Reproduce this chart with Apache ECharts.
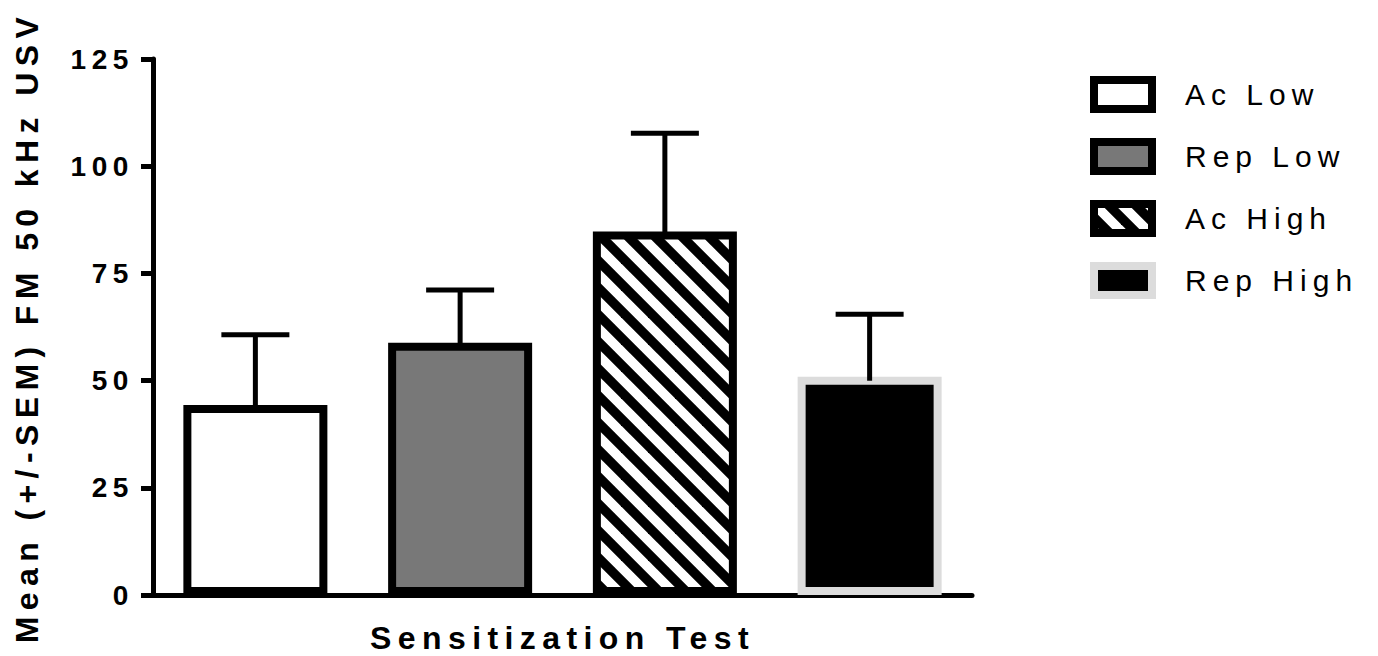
<!DOCTYPE html>
<html>
<head>
<meta charset="utf-8">
<script src="https://cdn.jsdelivr.net/npm/echarts@6/dist/echarts.min.js"></script>
<style>
    html, body { margin: 0; padding: 0; background: #fff; }
    #chart { width: 1378px; height: 656px; }
    /* the original has wide tracking on every label */
    #chart text { letter-spacing: 0.2em; }
</style>
</head>
<body>
<div id="chart"></div>
<script>
(function (window) {
    "use strict";
    var categories = ['Ac Low', 'Rep Low', 'Ac High', 'Rep High'];
    var means = [44.3, 58.8, 84.8, 50.9];
    var sem_top = [60.7, 71.1, 107.7, 65.5];
    var y_min = 0, y_max = 125, y_step = 25;
    var x_title = 'Sensitization Test';
    var y_title = 'Mean (+/-SEM) FM 50 kHz USV';

    var make_hatch = function () {
        var p = 27;
        var c = document.createElement('canvas');
        c.width = p; c.height = p;
        var ctx = c.getContext('2d');
        ctx.fillStyle = '#000';
        ctx.fillRect(0, 0, p, p);
        ctx.strokeStyle = '#fff';
        ctx.lineWidth = 9.5;
        for (var k = -1; k <= 1; k++) {
            ctx.beginPath();
            ctx.moveTo(k * p - p, -p);
            ctx.lineTo(k * p + 2 * p, 2 * p);
            ctx.stroke();
        }
        return c;
    };

    var styles = [
        { color: '#ffffff', borderColor: '#000000' },
        { color: '#787878', borderColor: '#000000' },
        { color: { image: make_hatch(), repeat: 'repeat' }, borderColor: '#000000' },
        { color: '#000000', borderColor: '#dcdcdc' }
    ];

    var font = 'Liberation Sans';
    var series = categories.map(function (name, i) {
        var data = categories.map(function (c, j) { return j === i ? means[i] : '-'; });
        return {
            name: name,
            type: 'bar',
            data: data,
            barWidth: 144,
            barGap: '-100%',
            z: 2,
            itemStyle: {
                color: styles[i].color,
                borderColor: styles[i].borderColor,
                borderWidth: 8
            }
        };
    });

    series.push({
        name: 'SEM',
        type: 'custom',
        z: 3,
        encode: { x: 0, y: [1, 2] },
        data: categories.map(function (c, i) { return [i, means[i], sem_top[i]]; }),
        renderItem: function (params, api) {
            var x = api.value(0);
            var base = api.coord([x, api.value(1)]);
            var top = api.coord([x, api.value(2)]);
            var half = 34;
            return {
                type: 'group',
                children: [
                    { type: 'line', shape: { x1: base[0], y1: base[1] + 4, x2: top[0], y2: top[1] },
                      style: { stroke: '#000', lineWidth: 5 } },
                    { type: 'line', shape: { x1: top[0] - half, y1: top[1], x2: top[0] + half, y2: top[1] },
                      style: { stroke: '#000', lineWidth: 5 } }
                ]
            };
        }
    });

    var chart = echarts.init(document.getElementById('chart'), null, { renderer: 'svg' });
    chart.setOption({
        animation: false,
        grid: { left: 153, right: 406, top: 59, bottom: 61, outerBoundsMode: 'none' },
        legend: {
            orient: 'vertical',
            left: 1090,
            top: 76,
            padding: 0,
            itemWidth: 58,
            itemHeight: 29,
            itemGap: 25,
            icon: 'rect',
            selectedMode: false,
            data: categories,
            itemStyle: { borderWidth: 8 },
            textStyle: { fontFamily: font, fontSize: 30, color: '#000', padding: [0, 0, 0, 28] }
        },
        xAxis: {
            type: 'category',
            data: categories,
            name: x_title,
            nameLocation: 'middle',
            nameGap: 27,
            nameTextStyle: { fontFamily: font, fontSize: 32, fontWeight: 'bold', color: '#000' },
            axisLine: { lineStyle: { color: '#000', width: 5 } },
            axisTick: { show: false },
            axisLabel: { show: false }
        },
        yAxis: {
            type: 'value',
            min: y_min,
            max: y_max,
            interval: y_step,
            name: y_title,
            nameLocation: 'middle',
            nameGap: 110,
            nameTextStyle: { fontFamily: font, fontSize: 32, fontWeight: 'bold', color: '#000' },
            splitLine: { show: false },
            axisLine: { show: true, lineStyle: { color: '#000', width: 5 } },
            axisTick: { show: true, length: 12, lineStyle: { color: '#000', width: 5 } },
            axisLabel: { margin: 19, fontFamily: font, fontSize: 28, fontWeight: 'bold', color: '#000' }
        },
        series: series
    });
})(window);
</script>
</body>
</html>
